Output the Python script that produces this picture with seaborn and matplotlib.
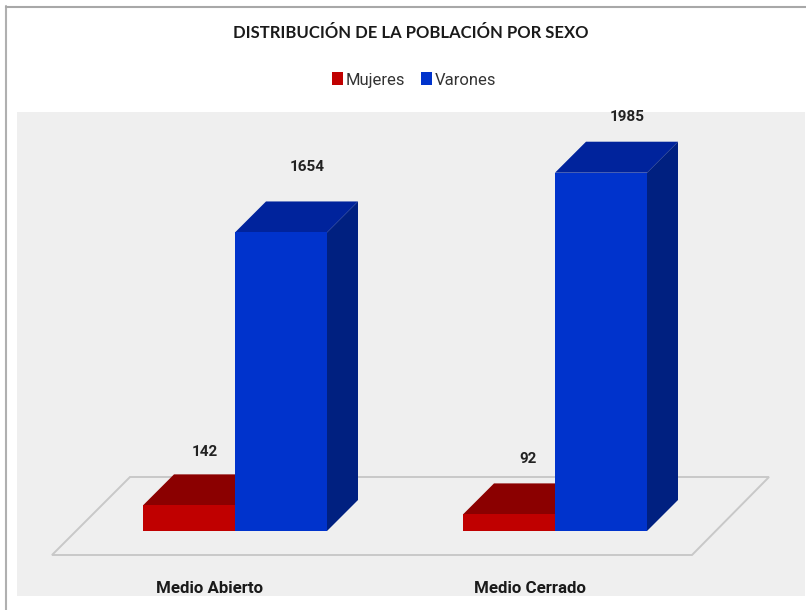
import matplotlib
matplotlib.use("Agg")
import matplotlib.pyplot as plt
from matplotlib.lines import Line2D
from matplotlib.patches import Polygon
import pandas as pd
import seaborn as sns

categories = ["Medio Abierto", "Medio Cerrado"]
mujeres = [142, 92]
varones = [1654, 1985]
series_names = ["Mujeres", "Varones"]
title_text = "DISTRIBUCIÓN DE LA POBLACIÓN POR SEXO"

W, H = 806, 610
GRAY_L, GRAY_R, GRAY_T, GRAY_B = 17, 805, 112, 596
CAT0_X, CAT_STEP, BAR_W, BASE_Y, PX_PER_UNIT, DEPTH = 235, 320, 92, 531, 0.1805, 31

sns.set_theme(style="white")
plt.rcParams["font.family"] = ["Roboto", "DejaVu Sans"]

df = pd.DataFrame({
    "cat": categories * 2,
    "sexo": [series_names[0]] * 2 + [series_names[1]] * 2,
    "n": mujeres + varones,
})

fig = plt.figure(figsize=(W / 100, H / 100), dpi=100, facecolor="white")
ax = fig.add_axes([GRAY_L / W, 1 - GRAY_B / H, (GRAY_R - GRAY_L) / W, (GRAY_B - GRAY_T) / H])
ax.set_facecolor("#EFEFEF")

front = {"Mujeres": "#C00000", "Varones": "#0033CC"}
top = {"Mujeres": "#8B0000", "Varones": "#00239C"}
side = {"Mujeres": "#760000", "Varones": "#002080"}

sns.barplot(data=df, x="cat", y="n", hue="sexo", hue_order=series_names, order=categories,
            palette=front, width=2 * BAR_W / CAT_STEP, saturation=1, gap=0, ax=ax, legend=True,
            linewidth=0)

ax.set_xlim((GRAY_L - CAT0_X) / CAT_STEP, (GRAY_R - CAT0_X) / CAT_STEP)
ax.set_ylim((BASE_Y - GRAY_B) / PX_PER_UNIT, (BASE_Y - GRAY_T) / PX_PER_UNIT)


def xd(px):
    return (px - CAT0_X) / CAT_STEP


def yd(py):
    return (BASE_Y - py) / PX_PER_UNIT


# floor of the pseudo-3D chart
ax.add_patch(Polygon([(xd(52), yd(555)), (xd(692), yd(555)), (xd(769), yd(477)), (xd(130), yd(477))],
                     closed=True, facecolor="none", edgecolor="#C8C8C8", linewidth=1.4, zorder=1))

# depth faces derived from the bars themselves
ddx = DEPTH / CAT_STEP
ddy = DEPTH / PX_PER_UNIT
bars = [p for c in ax.containers for p in c]
labels_offset = [(16, 53), (19, 55), (26, 65), (26, 56)]
for i, bar in enumerate(bars):
    name = series_names[i // 2]
    base_z = 2 if name == "Mujeres" else 5
    x0, w, h = bar.get_x(), bar.get_width(), bar.get_height()
    bar.set_zorder(base_z + 1)
    ax.add_patch(Polygon([(x0, h), (x0 + w, h), (x0 + w + ddx, h + ddy), (x0 + ddx, h + ddy)],
                         closed=True, facecolor=top[name], edgecolor="none", zorder=base_z))
    ax.add_patch(Polygon([(x0 + w, 0), (x0 + w + ddx, ddy), (x0 + w + ddx, h + ddy), (x0 + w, h)],
                         closed=True, facecolor=side[name], edgecolor="none", zorder=base_z))
    ax.annotate(str(int(h)), xy=(x0 + w / 2, h), xytext=labels_offset[i], textcoords="offset pixels",
                ha="center", va="center", fontsize=11, fontweight="bold", color="#222222", zorder=8)

sns.despine(ax=ax, left=True, bottom=True)
ax.set_xlabel("")
ax.set_ylabel("")
ax.set_yticks([])
ax.set_xticks([i - 25 / CAT_STEP for i in range(len(categories))], categories)
ax.tick_params(axis="x", length=0, pad=-10.8, labelsize=12.2, labelcolor="#1A1A1A")
for t in ax.get_xticklabels():
    t.set_fontweight("bold")
    t.set_zorder(9)

sns.move_legend(ax, "center", bbox_to_anchor=(414 / W, 1 - 80 / H), bbox_transform=fig.transFigure,
                ncol=2, frameon=False, title=None, fontsize=12, handlelength=0.66, handleheight=0.78,
                handletextpad=0.15, columnspacing=0.95, labelcolor="#333333")

fig.text(411 / W, 1 - 33 / H, title_text, ha="center", va="center", fontsize=12,
         fontweight="bold", family=["Lato", "DejaVu Sans"], color="#1A1A1A")

fig.add_artist(Line2D([6 / W, 6 / W], [0, 1 - 6 / H], color="#B0B0B0", lw=1.5))
fig.add_artist(Line2D([6 / W, 1], [1 - 6.5 / H, 1 - 6.5 / H], color="#A8A8A8", lw=1.5))

fig.savefig("out.png", dpi=100, facecolor="white")
